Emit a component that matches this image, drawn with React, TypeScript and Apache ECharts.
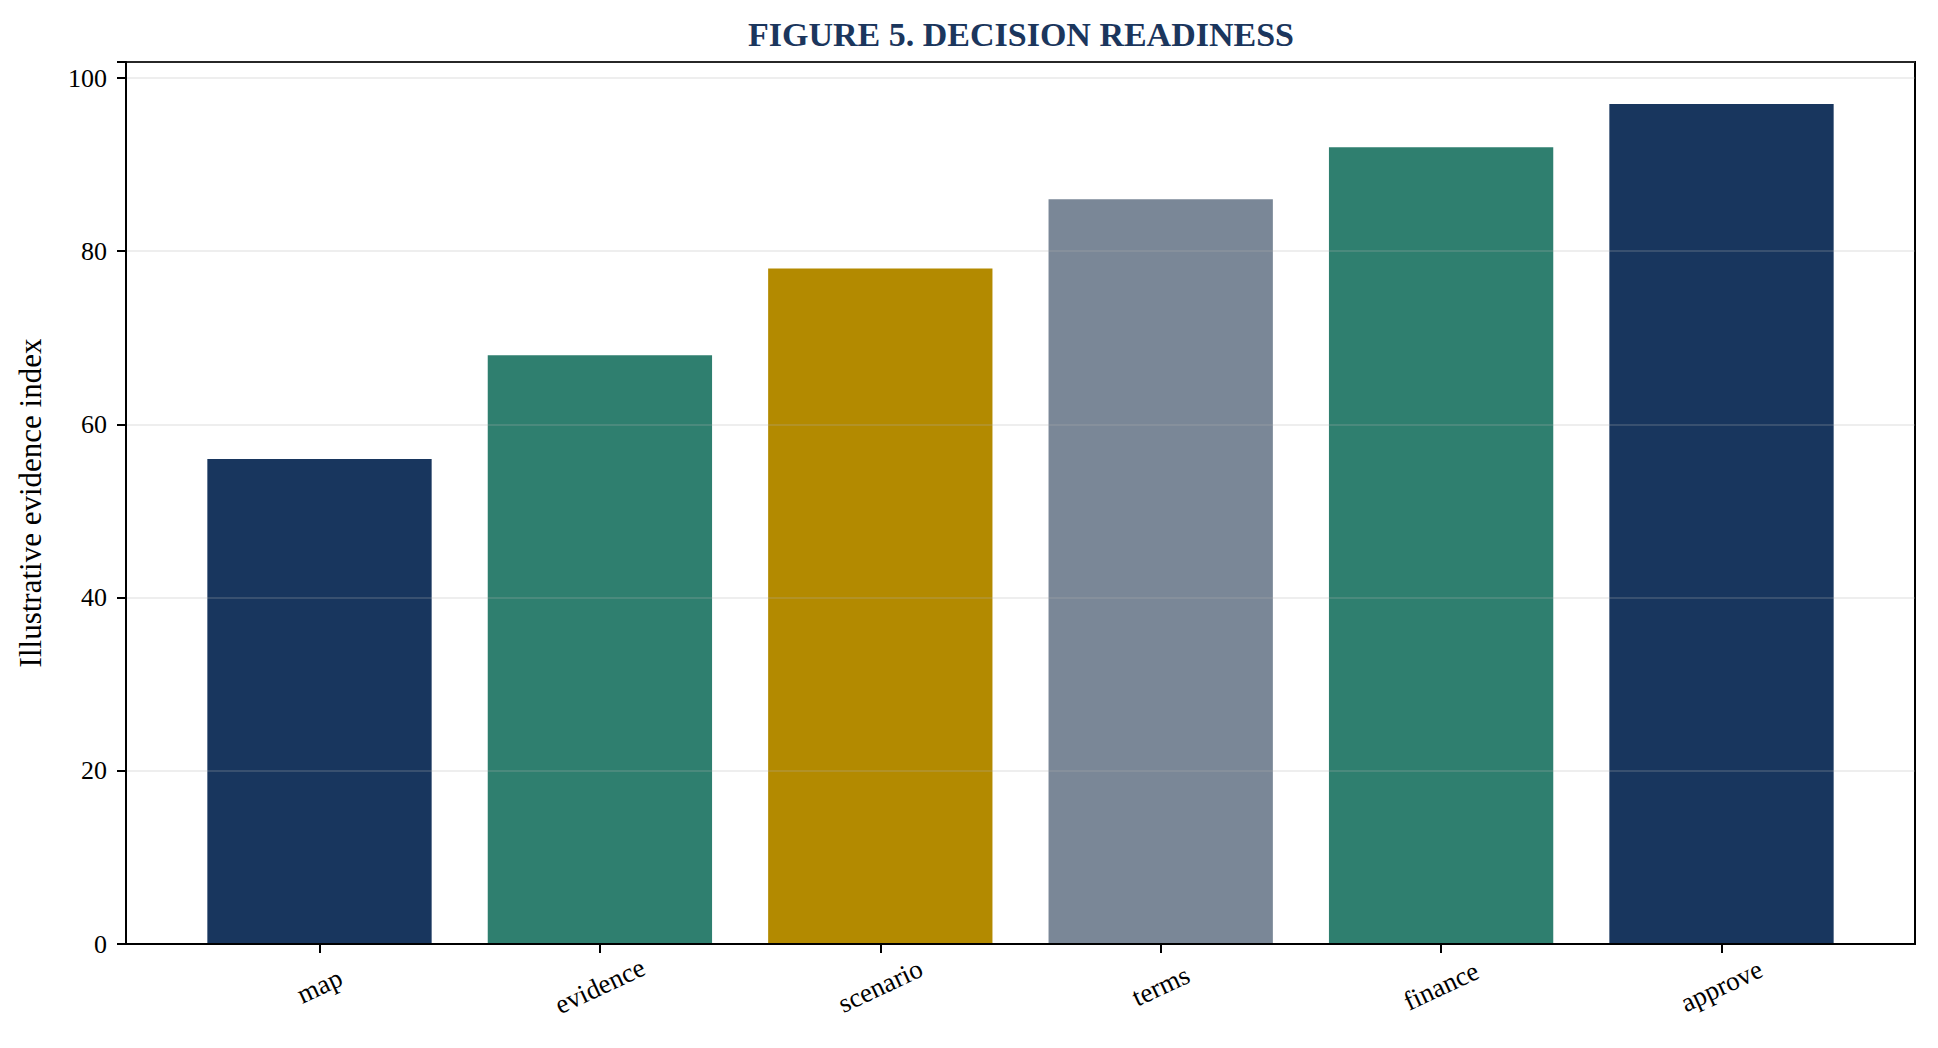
import { useEffect, useRef } from "react";
import * as echarts from "echarts";

const categories = ["map", "evidence", "scenario", "terms", "finance", "approve"];
const readiness = [56, 68, 78, 86, 92, 97];
const barColors = ["#18365E", "#2F7F6F", "#B38A00", "#7A8797", "#2F7F6F", "#18365E"];
const yTicks = [0, 20, 40, 60, 80, 100];

const FONT = "'Liberation Serif', 'Times New Roman', serif";
const Y_MAX = 101.85;

export default function App() {
  const ref = useRef<HTMLDivElement | null>(null);

  useEffect(() => {
    if (!ref.current) return;
    const chart = echarts.init(ref.current, undefined, { renderer: "svg" });

    // plot frame: 126..1915 x 62..944; bars sit in an inner band grid (matplotlib x margins)
    const frame = { left: 126, right: 23, top: 62, bottom: 104 };
    const inset = 53.3;

    chart.setOption({
      animation: false,
      backgroundColor: "#ffffff",
      graphic: [
        {
          type: "text",
          x: 1021,
          y: 34,
          style: {
            text: "FIGURE 5. DECISION READINESS",
            align: "center",
            verticalAlign: "middle",
            fontFamily: FONT,
            fontWeight: "bold",
            fontSize: 34,
            fill: "#1B365D",
          },
        },
      ],
      grid: [
        { ...frame, show: true, borderColor: "#000", borderWidth: 2, backgroundColor: "transparent" },
        { left: frame.left + inset, right: frame.right + inset, top: frame.top, bottom: frame.bottom },
      ],
      xAxis: [
        {
          gridIndex: 0,
          type: "value",
          min: 0,
          max: 1,
          z: 5,
          axisLine: { show: true, lineStyle: { color: "#000", width: 2 } },
          axisTick: { show: false },
          axisLabel: { show: false },
          splitLine: { show: false },
        },
        {
          gridIndex: 1,
          type: "category",
          data: categories,
          boundaryGap: true,
          axisLine: { show: false },
          axisTick: { show: true, alignWithLabel: true, length: 9, lineStyle: { color: "#000", width: 2 } },
          axisLabel: {
            rotate: 25,
            align: "center",
            verticalAlign: "middle",
            margin: 42,
            color: "#000",
            fontFamily: FONT,
            fontSize: 27,
          },
        },
      ],
      yAxis: [
        {
          gridIndex: 0,
          type: "value",
          min: 0,
          max: Y_MAX,
          interval: 20,
          z: 3,
          name: "Illustrative evidence index",
          nameLocation: "middle",
          nameGap: 80,
          nameTextStyle: { color: "#000", fontFamily: FONT, fontSize: 31 },
          axisLine: { show: true, lineStyle: { color: "#000", width: 2 } },
          axisTick: { show: true, length: 9, lineStyle: { color: "#000", width: 2 } },
          axisLabel: {
            margin: 19,
            color: "#000",
            fontFamily: FONT,
            fontSize: 26,
            formatter: (v: number) => (yTicks.includes(v) ? String(v) : ""),
          },
          splitLine: { show: true, lineStyle: { color: "rgba(176,176,176,0.22)", width: 2 } },
        },
        {
          gridIndex: 1,
          type: "value",
          min: 0,
          max: Y_MAX,
          show: false,
          splitLine: { show: false },
        },
      ],
      series: [
        {
          type: "bar",
          xAxisIndex: 1,
          yAxisIndex: 1,
          barWidth: "80%",
          data: readiness.map((v, i) => ({ value: v, itemStyle: { color: barColors[i] } })),
        },
      ],
    });

    return () => chart.dispose();
  }, []);

  return (
    <div
      ref={ref}
      style={{ position: "fixed", left: 0, top: 0, width: 1938, height: 1048, background: "#fff" }}
    />
  );
}
